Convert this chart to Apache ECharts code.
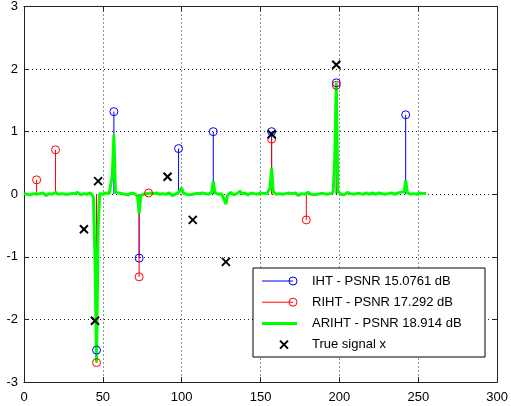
<!DOCTYPE html>
<html>
<head>
<meta charset="utf-8">
<script src="https://cdn.jsdelivr.net/npm/echarts@6/dist/echarts.min.js"></script>
<style>
  html, body { margin: 0; padding: 0; background: #fff; }
  #chart { width: 511px; height: 406px; }
</style>
</head>
<body>
<div id="chart"></div>
<script>
// Recovered coefficients (index, value) for each method
const ihtX = [46, 57, 73, 98, 120, 157, 198, 242];
const ihtY = [-2.49, 1.32, -1.02, 0.73, 1.00, 1.00, 1.78, 1.27];

const rihtX = [8, 20, 46, 73, 79, 157, 179, 198];
const rihtY = [0.23, 0.71, -2.69, -1.32, 0.02, 0.88, -0.41, 1.74];

// Original sparse signal (non-zero entries)
const trueX = [38, 45, 47, 91, 107, 128, 157, 198];
const trueY = [-0.56, -2.02, 0.21, 0.28, -0.41, -1.08, 0.96, 2.07];

// ARIHT estimate, all 256 samples (index 0..255)
const arihtY = [
  0.01, 0.02, 0.00, 0.01, -0.01, 0.02, 0.01, 0.03, 0.00, -0.01,
  0.01, 0.00, 0.02, 0.01, -0.02, 0.00, 0.01, 0.02, 0.00, 0.01,
  0.03, 0.01, 0.00, -0.01, 0.01, 0.02, 0.00, 0.01, 0.00, -0.01,
  0.01, 0.02, 0.01, 0.00, 0.03, 0.01, -0.01, 0.00, 0.01, 0.02,
  0.00, 0.01, 0.02, -0.01, -0.04, -1.00, -2.69, -0.55, 0.01, 0.02,
  0.00, 0.01, 0.02, 0.00, 0.01, 0.03, 0.30, 0.95, 0.03, 0.01,
  0.02, -0.01, 0.01, 0.03, 0.00, 0.02, -0.01, 0.01, 0.02, 0.00,
  0.01, -0.01, -0.03, -0.31, -0.02, 0.01, 0.00, 0.02, 0.01, 0.00,
  0.02, 0.00, 0.01, -0.01, 0.02, 0.01, 0.00, 0.03, 0.01, -0.01,
  0.00, 0.01, 0.02, 0.00, -0.02, 0.01, 0.00, 0.02, 0.03, 0.02,
  0.10, 0.02, 0.01, 0.00, 0.02, -0.01, 0.01, 0.00, 0.02, 0.01,
  0.00, 0.01, -0.01, 0.02, 0.00, 0.01, 0.02, 0.00, 0.01, 0.03,
  0.21, 0.03, 0.01, 0.00, -0.02, 0.01, -0.03, -0.03, -0.16, -0.02,
  0.01, 0.03, 0.00, -0.01, 0.02, 0.01, 0.03, 0.05, 0.01, 0.00,
  0.02, 0.00, -0.01, 0.01, 0.02, 0.00, 0.01, -0.02, 0.00, 0.01,
  0.02, 0.00, 0.01, 0.03, 0.01, 0.02, 0.10, 0.42, 0.04, 0.01,
  0.00, 0.02, 0.01, -0.01, 0.00, 0.03, 0.01, 0.00, 0.02, -0.01,
  0.01, 0.00, 0.02, 0.01, -0.02, 0.00, 0.01, 0.02, 0.00, 0.01,
  0.03, 0.01, 0.00, 0.02, -0.01, 0.01, 0.00, 0.02, 0.01, 0.00,
  0.01, 0.02, 0.00, -0.01, 0.01, 0.02, 0.03, 0.55, 1.78, 0.04,
  0.01, 0.00, 0.02, -0.01, 0.01, 0.03, 0.00, 0.01, -0.02, 0.00,
  0.02, 0.01, 0.00, 0.01, 0.03, 0.00, -0.01, 0.02, 0.01, 0.00,
  0.01, 0.02, -0.01, 0.00, 0.01, 0.02, 0.00, 0.01, 0.02, 0.00,
  -0.01, 0.01, 0.00, 0.02, 0.01, 0.00, 0.01, 0.02, 0.00, 0.03,
  0.02, 0.04, 0.22, 0.03, 0.01, 0.00, 0.02, 0.01, -0.01, 0.00,
  0.01, 0.02, 0.00, 0.01, 0.02, 0.01
];

const legendLabels = [
  'IHT - PSNR 15.0761 dB',
  'RIHT - PSNR 17.292 dB',
  'ARIHT - PSNR 18.914 dB',
  'True signal x'
];

const BLUE = '#0000ff', RED = '#ff0000', GREEN = '#00ff00';
const FONT = '"Liberation Sans", Arial, Helvetica, sans-serif';

const pairs = (xs, ys) => xs.map((x, i) => [x, ys[i]]);

function stemLines(xs, ys, color, name) {
  return {
    name, type: 'custom', z: 2, clip: false,
    data: pairs(xs, ys),
    renderItem: (params, api) => {
      const p0 = api.coord([api.value(0), 0]);
      const p1 = api.coord([api.value(0), api.value(1)]);
      return { type: 'line', shape: { x1: p0[0], y1: p0[1], x2: p1[0], y2: p1[1] },
               style: { stroke: color, lineWidth: 1 } };
    }
  };
}

function stemHeads(xs, ys, color, name) {
  return {
    name, type: 'scatter', z: 4, symbol: 'circle', symbolSize: 8,
    data: pairs(xs, ys),
    itemStyle: { color: 'rgba(0,0,0,0)', borderColor: color, borderWidth: 1, opacity: 1 },
    emphasis: { disabled: true }
  };
}

const crossSeries = {
  name: 'True signal x', type: 'custom', z: 5, clip: false,
  data: pairs(trueX, trueY),
  renderItem: (params, api) => {
    const p = api.coord([api.value(0), api.value(1)]);
    const r = 4;
    const st = { stroke: '#000', lineWidth: 2 };
    return { type: 'group', children: [
      { type: 'line', shape: { x1: p[0]-r, y1: p[1]-r, x2: p[0]+r, y2: p[1]+r }, style: st },
      { type: 'line', shape: { x1: p[0]-r, y1: p[1]+r, x2: p[0]+r, y2: p[1]-r }, style: st }
    ]};
  }
};

const axisCommon = {
  axisLine: { show: true, onZero: false, lineStyle: { color: '#222', width: 1 } },
  axisTick: { show: true, inside: true, length: 5, lineStyle: { color: '#222' } }
};
const gridLine = { show: true, lineStyle: { color: '#222', type: [1, 3], width: 1 } };
const labelStyle = { color: '#000', fontSize: 13, fontFamily: FONT };

// Legend box, drawn as graphic elements
const LX = 253, LY = 268, LW = 232, LH = 89, ROW0 = 281, ROWH = 21.2;
const legendGraphics = [
  { type: 'rect', shape: { x: LX, y: LY, width: LW, height: LH },
    style: { fill: '#fff', stroke: '#000', lineWidth: 1 }, z: 100 },
  { type: 'line', shape: { x1: 262, y1: ROW0, x2: 293, y2: ROW0 }, style: { stroke: BLUE, lineWidth: 1 }, z: 101 },
  { type: 'circle', shape: { cx: 293, cy: ROW0, r: 4 }, style: { fill: 'none', stroke: BLUE, lineWidth: 1 }, z: 101 },
  { type: 'line', shape: { x1: 262, y1: ROW0 + ROWH, x2: 293, y2: ROW0 + ROWH }, style: { stroke: RED, lineWidth: 1 }, z: 101 },
  { type: 'circle', shape: { cx: 293, cy: ROW0 + ROWH, r: 4 }, style: { fill: 'none', stroke: RED, lineWidth: 1 }, z: 101 },
  { type: 'line', shape: { x1: 262, y1: ROW0 + 2*ROWH, x2: 297, y2: ROW0 + 2*ROWH }, style: { stroke: GREEN, lineWidth: 3 }, z: 101 },
  { type: 'line', shape: { x1: 280, y1: ROW0 + 3*ROWH - 4, x2: 288, y2: ROW0 + 3*ROWH + 4 }, style: { stroke: '#000', lineWidth: 2 }, z: 101 },
  { type: 'line', shape: { x1: 280, y1: ROW0 + 3*ROWH + 4, x2: 288, y2: ROW0 + 3*ROWH - 4 }, style: { stroke: '#000', lineWidth: 2 }, z: 101 }
].concat(legendLabels.map((t, i) => ({
  type: 'text', x: 312, y: ROW0 + i*ROWH, z: 101,
  style: { text: t, fill: '#000', font: '13px ' + FONT, textVerticalAlign: 'middle', verticalAlign: 'middle' }
})));

const chart = echarts.init(document.getElementById('chart'), null, { renderer: 'canvas' });
chart.setOption({
  animation: false,
  backgroundColor: '#fff',
  grid: { left: 24, right: 11, top: 5, bottom: 24, containLabel: false },
  xAxis: [
    Object.assign({ type: 'value', min: 0, max: 300, interval: 50, position: 'bottom',
      axisLabel: Object.assign({ margin: 9 }, labelStyle), splitLine: gridLine }, axisCommon),
    Object.assign({ type: 'value', min: 0, max: 300, interval: 50, position: 'top',
      axisLabel: { show: false }, splitLine: { show: false } }, axisCommon)
  ],
  yAxis: [
    Object.assign({ type: 'value', min: -3, max: 3, interval: 1, position: 'left',
      axisLabel: Object.assign({ margin: 6 }, labelStyle), splitLine: gridLine }, axisCommon),
    Object.assign({ type: 'value', min: -3, max: 3, interval: 1, position: 'right',
      axisLabel: { show: false }, splitLine: { show: false } }, axisCommon)
  ],
  series: [
    stemLines(ihtX, ihtY, BLUE, 'IHT'),
    stemLines(rihtX, rihtY, RED, 'RIHT'),
    {
      name: 'ARIHT', type: 'line', z: 3, showSymbol: false, symbol: 'none',
      data: arihtY.map((v, i) => [i, v]),
      lineStyle: { color: GREEN, width: 3 }, itemStyle: { color: GREEN }
    },
    stemHeads(ihtX, ihtY, BLUE, 'IHT'),
    stemHeads(rihtX, rihtY, RED, 'RIHT'),
    crossSeries
  ],
  graphic: legendGraphics
});
</script>
</body>
</html>
